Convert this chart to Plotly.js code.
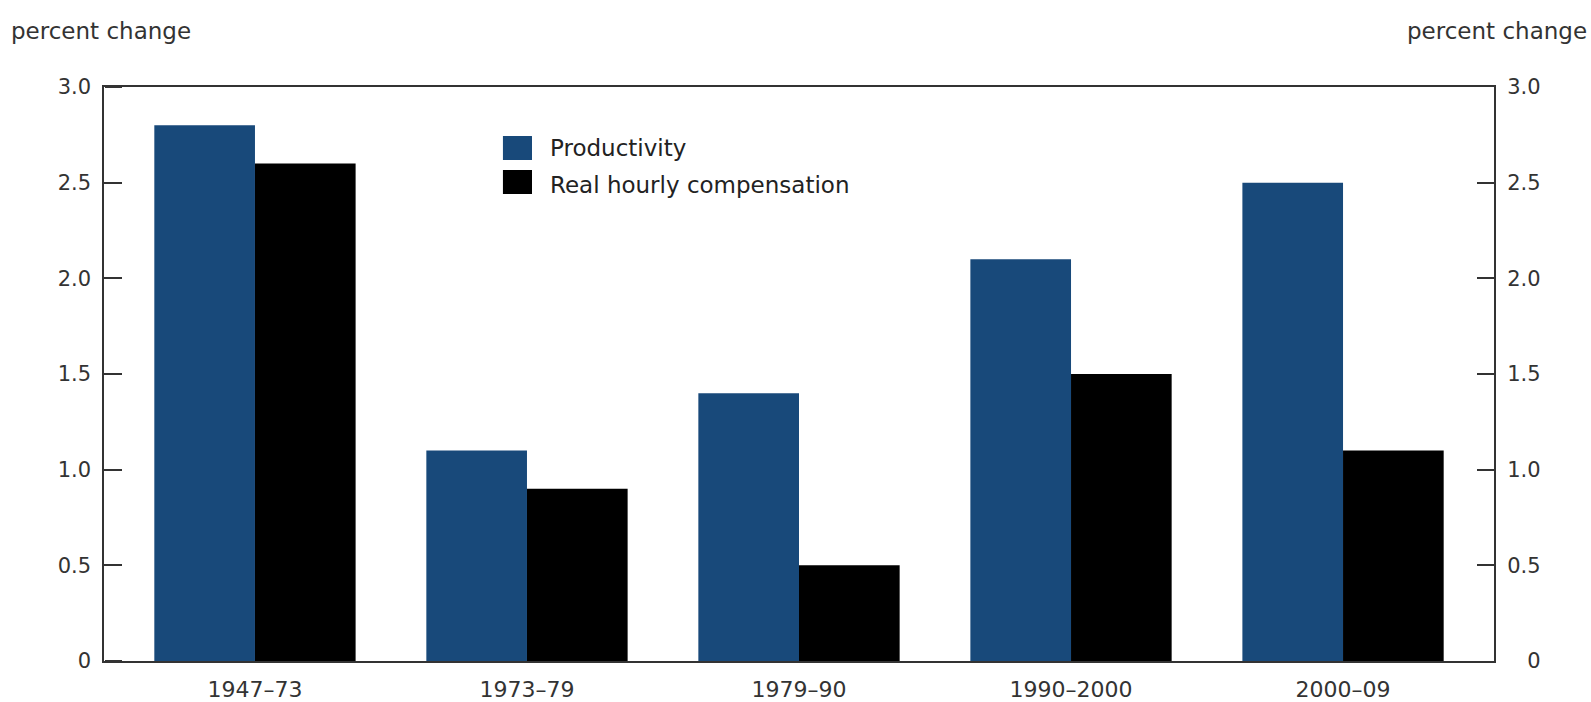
<!DOCTYPE html>
<html>
<head>
<meta charset="utf-8">
<script src="https://cdn.plot.ly/plotly-3.0.1.min.js"></script>
<style>html,body{margin:0;padding:0;background:#fff;}#chart{width:1591px;height:702px;}</style>
</head>
<body>
<div id="chart"></div>
<script>
const periods = ["1947–73", "1973–79", "1979–90", "1990–2000", "2000–09"];
const productivity = [2.8, 1.1, 1.4, 2.1, 2.5];
const realHourlyComp = [2.6, 0.9, 0.5, 1.5, 1.1];
const yTickVals = [0, 0.5, 1.0, 1.5, 2.0, 2.5, 3.0];
const yTickText = ["0", "0.5", "1.0", "1.5", "2.0", "2.5", "3.0"];
const seriesNames = ["Productivity", "Real hourly compensation"];
const seriesColors = ["#18497a", "#000000"];

const FONT = "DejaVu Sans, sans-serif";
const traces = [
  {type: "bar", x: periods, y: productivity, name: seriesNames[0], marker: {color: seriesColors[0]}, showlegend: false, hoverinfo: "x+y+name"},
  {type: "bar", x: periods, y: realHourlyComp, name: seriesNames[1], marker: {color: seriesColors[1]}, showlegend: false, hoverinfo: "x+y+name"},
  {type: "scatter", mode: "markers", x: periods, y: productivity, yaxis: "y2", marker: {opacity: 0}, showlegend: false, hoverinfo: "skip"},
  {type: "scatter", mode: "markers", x: periods, y: productivity, yaxis: "y3", marker: {opacity: 0}, showlegend: false, hoverinfo: "skip"}
];

// left labels get a small trailing gap; right-side labels are right-aligned in the reference
const leftTickText = yTickText.map(t => t + "\u2008");
const rightTickText = yTickText.map(t => t.length === 1 ? "\u2007\u2008" + t : t);

const axisCommon = {
  range: [0, 3.0], autorange: false, tickmode: "array", tickvals: yTickVals,
  ticks: "inside", ticklen: 17, tickwidth: 2, tickcolor: "#333",
  showline: true, linecolor: "#333", linewidth: 2, mirror: false,
  showgrid: false, zeroline: false, fixedrange: true,
  tickfont: {family: FONT, size: 21, color: "#333"}
};

const legendX0 = 0.287, legendSq = 0.0209;
const legendRows = [[0.9146, 0.8728], [0.8554, 0.8136]];
const legendTextY = [0.8937, 0.829];
const shapes = legendRows.map((r, i) => ({
  type: "rect", xref: "paper", yref: "paper",
  x0: legendX0, x1: legendX0 + legendSq, y0: r[1], y1: r[0],
  fillcolor: seriesColors[i], line: {width: 0}
}));
const annotations = legendRows.map((r, i) => ({
  xref: "paper", yref: "paper", x: 0.3197, y: legendTextY[i],
  xanchor: "left", yanchor: "middle", showarrow: false,
  text: seriesNames[i], font: {family: FONT, size: 23, color: "#222"}
}));
annotations.push(
  {xref: "paper", yref: "paper", x: -0.068, y: 1.0976, xanchor: "left", yanchor: "middle", showarrow: false,
   text: "percent change", font: {family: FONT, size: 23, color: "#333"}},
  {xref: "paper", yref: "paper", x: 1.068, y: 1.0976, xanchor: "right", yanchor: "middle", showarrow: false,
   text: "percent change", font: {family: FONT, size: 23, color: "#333"}}
);

const layout = {
  width: 1591, height: 702,
  margin: {l: 104, r: 97, t: 87, b: 41, pad: 0},
  paper_bgcolor: "#fff", plot_bgcolor: "#fff",
  barmode: "group", bargap: 0.26, bargroupgap: 0,
  showlegend: false,
  xaxis: {
    range: [-0.555, 4.555], autorange: false, showline: true, linecolor: "#333", linewidth: 2, mirror: true,
    ticks: "", showgrid: false, fixedrange: true, ticklabelstandoff: 8,
    tickfont: {family: FONT, size: 22, color: "#333"}
  },
  yaxis: Object.assign({}, axisCommon, {side: "left", ticktext: leftTickText}),
  yaxis2: Object.assign({}, axisCommon, {side: "right", ticktext: rightTickText, overlaying: "y", ticklabelstandoff: 7}),
  // tick marks along the left edge, pointing into the plot
  yaxis3: Object.assign({}, axisCommon, {side: "right", overlaying: "y", anchor: "free", position: 0,
    ticks: "outside", showline: false, showticklabels: false}),
  shapes: shapes,
  annotations: annotations
};

Plotly.newPlot("chart", traces, layout, {displayModeBar: false, staticPlot: true});
</script>
</body>
</html>
